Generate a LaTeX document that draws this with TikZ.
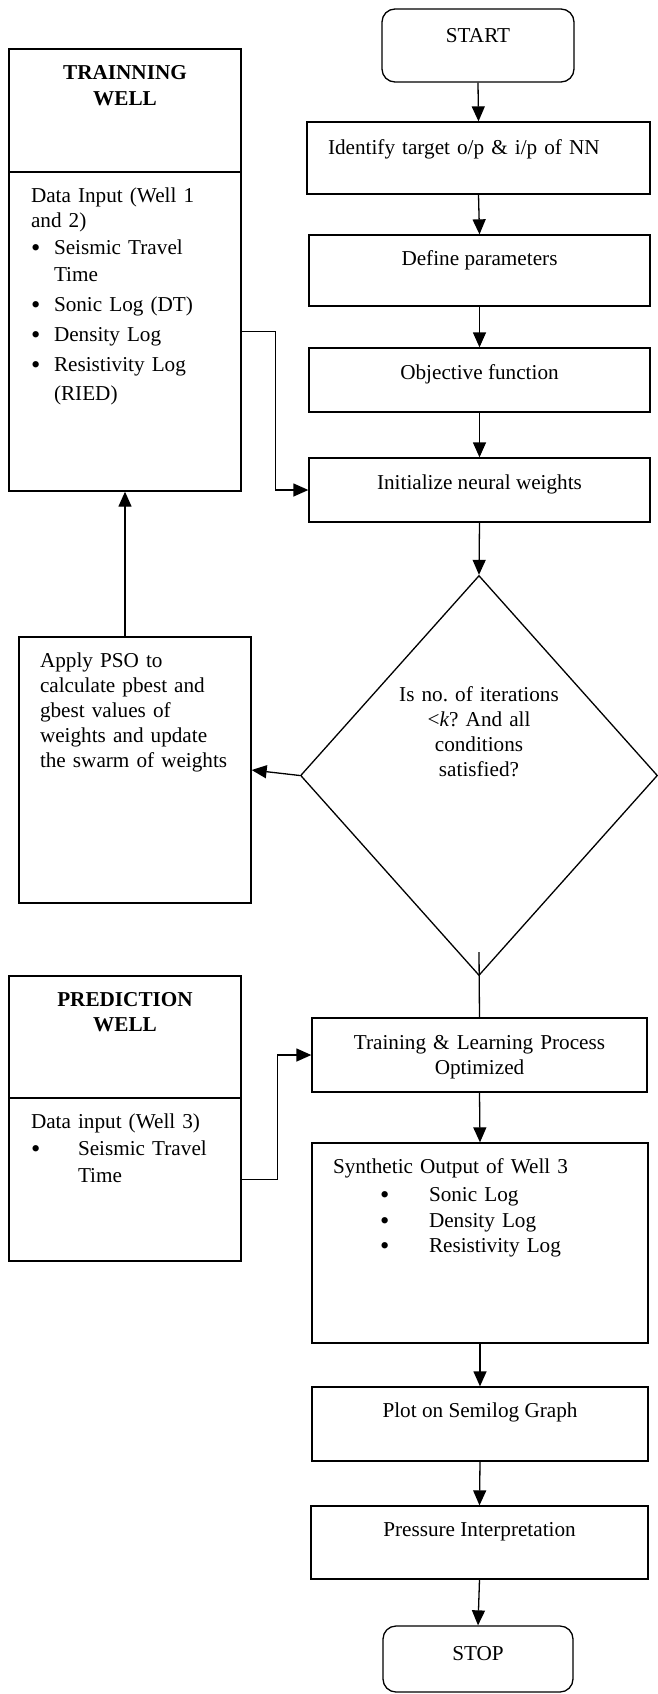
\documentclass[tikz,border=0pt]{standalone}
\usepackage{fontspec}
\usepackage{graphicx}
\setmainfont{Liberation Serif}
\usetikzlibrary{arrows.meta,shapes.geometric}
\frenchspacing

\begin{document}
\begin{tikzpicture}[x=1pt,y=-1pt,
    every node/.style={font=\fontsize{21.2}{25}\selectfont},
    box/.style={draw,line width=1.3pt,inner sep=0pt,text height=15pt},
    endbox/.style={box,rounded corners=13pt},
    flow/.style={line width=1.3pt,-{Triangle[length=15pt,width=13pt]}},
    link/.style={line width=1.3pt}]
    \useasboundingbox (0,0) rectangle (657,1694);

    % main column
    \node[endbox,minimum width=192pt,minimum height=73pt,text depth=20pt] (start) at (478,45.5) {START};
    \node[box,minimum width=343pt,minimum height=72pt,text depth=23pt,inner xsep=21pt,text width=301pt,align=left] (ident) at (478.5,158) {Identify target o/p \& i/p of NN};
    \node[box,minimum width=341pt,minimum height=71pt,text depth=26pt] (define) at (479.5,270.5) {Define parameters};
    \node[box,minimum width=341pt,minimum height=64pt,text depth=17pt] (objfun) at (479.5,380) {Objective function};
    \node[box,minimum width=341pt,minimum height=64pt,text depth=17pt] (init) at (479.5,490) {Initialize neural weights};
    \node[diamond,aspect=1,draw,line width=1.3pt,inner sep=0pt,minimum width=357pt,minimum height=400pt,
          text width=170pt,align=center,text height=15pt,text depth=164pt] (decide) at (479,775.5)
          {Is no.\ of iterations\\ \textless\textit{k}? And all\\ conditions\\ satisfied?};
    \node[box,minimum width=335pt,minimum height=74pt,text depth=27pt,text width=300pt,align=center] (optim) at (479.5,1055)
          {Training \& Learning Process\\ Optimized};
    \node[box,minimum width=336pt,minimum height=200pt,text depth=155pt,inner xsep=21pt,text width=294pt,align=left] (synth) at (480,1243)
          {Synthetic Output of Well 3\\[3pt]
           \hspace*{47pt}\makebox[49pt][l]{\raisebox{-2pt}{\scalebox{1.25}{\textbullet}}}Sonic Log\\[1pt]
           \hspace*{47pt}\makebox[49pt][l]{\raisebox{-2pt}{\scalebox{1.25}{\textbullet}}}Density Log\\
           \hspace*{47pt}\makebox[49pt][l]{\raisebox{-2pt}{\scalebox{1.25}{\textbullet}}}Resistivity Log};
    \node[box,minimum width=336pt,minimum height=74pt,text depth=29pt] (plot) at (480,1424) {Plot on Semilog Graph};
    \node[box,minimum width=337pt,minimum height=73pt,text depth=28pt] (press) at (479.5,1542.5) {Pressure Interpretation};
    \node[endbox,minimum width=190pt,minimum height=66pt,text depth=13pt] (stop) at (478,1659) {STOP};

    % left column
    \node[box,minimum width=232pt,minimum height=123pt,text depth=76pt,text width=212pt,align=center,
          font=\fontsize{21.2}{25}\selectfont\bfseries] (trainhead) at (125,110.5) {TRAINNING\\ WELL};
    \node[box,minimum width=232pt,minimum height=319pt,text depth=274pt,inner xsep=22pt,text width=188pt,align=left] (trainbody) at (125,331.5)
          {Data Input (Well 1\\
           and 2)\\[2pt]
           \makebox[23pt][l]{\raisebox{-2pt}{\scalebox{1.25}{\textbullet}}}Seismic Travel\\[2pt]
           \hspace*{23pt}Time\\[5pt]
           \makebox[23pt][l]{\raisebox{-2pt}{\scalebox{1.25}{\textbullet}}}Sonic Log (DT)\\[5pt]
           \makebox[23pt][l]{\raisebox{-2pt}{\scalebox{1.25}{\textbullet}}}Density Log\\[5pt]
           \makebox[23pt][l]{\raisebox{-2pt}{\scalebox{1.25}{\textbullet}}}Resistivity Log\\[4pt]
           \hspace*{23pt}(RIED)};
    \node[box,minimum width=232pt,minimum height=266pt,text depth=221pt,inner xsep=21pt,text width=190pt,align=left] (pso) at (135,770)
          {Apply PSO to\\ calculate pbest and\\ gbest values of\\ weights and update\\ the swarm of weights};
    \node[box,minimum width=232pt,minimum height=122pt,text depth=77pt,text width=212pt,align=center,
          font=\fontsize{21.2}{25}\selectfont\bfseries] (predhead) at (125,1037) {PREDICTION\\ WELL};
    \node[box,minimum width=232pt,minimum height=163pt,text depth=118pt,inner xsep=22pt,text width=188pt,align=left] (predbody) at (125,1179.5)
          {Data input (Well 3)\\[2pt]
           \makebox[47pt][l]{\raisebox{-2pt}{\scalebox{1.25}{\textbullet}}}Seismic Travel\\[2pt]
           \hspace*{47pt}Time};

    % connectors
    \draw[flow] (start.south) -- (ident.north);
    \draw[flow] (ident.south) -- (define.north);
    \draw[flow] (define.south) -- (objfun.north);
    \draw[flow] (objfun.south) -- (init.north);
    \draw[flow] (init.south) -- (decide.north);
    \draw[flow] (decide.west) -- (pso.east);
    \draw[flow] (pso.north -| trainbody.south) -- (trainbody.south);
    \draw[flow] (trainbody.east) -- ++(34,0) |- (init.west);
    \draw[link] ([yshift=24pt]decide.south) -- (optim.north);
    \draw[flow] (predbody.east) -- ++(36,0) |- (optim.west);
    \draw[flow] (optim.south) -- (synth.north);
    \draw[flow] (synth.south) -- (plot.north);
    \draw[flow] (plot.south) -- (press.north);
    \draw[flow] (press.south) -- (stop.north);
\end{tikzpicture}
\end{document}
